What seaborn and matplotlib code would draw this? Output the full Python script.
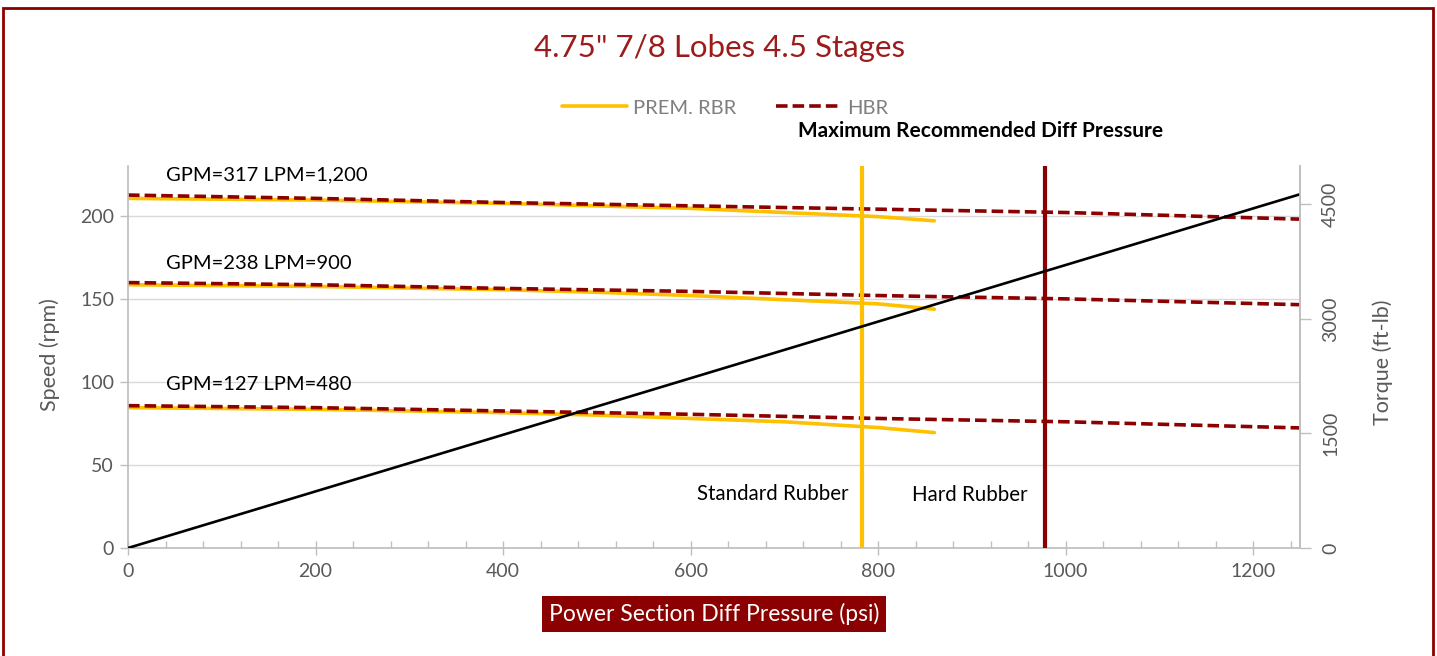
import pandas as pd
import matplotlib.pyplot as plt
import seaborn as sns
from matplotlib.lines import Line2D
from matplotlib.patches import Rectangle
from matplotlib.ticker import MultipleLocator

# pressure points (psi) for each rubber type
prem_psi = [0, 200, 400, 500, 600, 700, 800, 860]
hbr_psi = [0, 200, 400, 600, 800, 1000, 1250]

# speed (rpm) per flow rate
prem_317 = [210.5, 209.5, 207.5, 206.0, 204.5, 202.0, 199.5, 197.0]
prem_238 = [158.5, 157.5, 155.5, 154.0, 152.0, 149.5, 147.0, 143.8]
prem_127 = [84.5, 83.5, 81.5, 80.0, 78.0, 76.0, 72.5, 69.5]
hbr_317 = [212.5, 210.5, 208.0, 206.0, 204.0, 202.0, 198.0]
hbr_238 = [159.8, 158.5, 156.3, 154.5, 152.0, 150.0, 146.5]
hbr_127 = [85.7, 84.5, 82.5, 80.5, 78.0, 76.0, 72.3]

torque_psi = [0, 1250]
torque_ftlb = [0, 4630]

flow_labels = ['GPM=317 LPM=1,200', 'GPM=238 LPM=900', 'GPM=127 LPM=480']
flow_label_y = [224.7, 171.0, 98.2]

std_limit = 783
hard_limit = 978

YELLOW = '#FFC000'
DRED = '#8B0000'
GRAY = '#595959'


def build_frame():
    rows = []
    for flow, vals in zip(flow_labels, [prem_317, prem_238, prem_127]):
        for p, v in zip(prem_psi, vals):
            rows.append({'psi': p, 'rpm': v, 'rubber': 'PREM. RBR', 'flow': flow})
    for flow, vals in zip(flow_labels, [hbr_317, hbr_238, hbr_127]):
        for p, v in zip(hbr_psi, vals):
            rows.append({'psi': p, 'rpm': v, 'rubber': 'HBR', 'flow': flow})
    return pd.DataFrame(rows)


df = build_frame()

sns.set_theme(style='white')
plt.rcParams['font.family'] = ['Lato', 'DejaVu Sans']

W, H = 1437, 656
fig = plt.figure(figsize=(W / 100, H / 100), dpi=100)
ax = fig.add_axes([128 / W, 1 - 548 / H, (1300 - 128) / W, (548 - 166) / H])

sns.lineplot(data=df, x='psi', y='rpm', hue='rubber', style='rubber', units='flow',
             estimator=None, sort=False, hue_order=['PREM. RBR', 'HBR'],
             palette={'PREM. RBR': YELLOW, 'HBR': DRED},
             dashes={'PREM. RBR': '', 'HBR': (3.2, 1.4)},
             lw=2.6, legend=False, ax=ax)

ax.axvline(std_limit, color=YELLOW, lw=3, zorder=5)
ax.axvline(hard_limit, color=DRED, lw=3, zorder=5)

ax.set_xlim(0, 1250)
ax.set_ylim(0, 230)
ax.set_yticks([0, 50, 100, 150, 200])
ax.xaxis.set_major_locator(MultipleLocator(200))
ax.xaxis.set_minor_locator(MultipleLocator(40))
ax.yaxis.grid(True, color='#D9D9D9', lw=1)
ax.set_axisbelow(True)
ax.set_xlabel('')
ax.set_ylabel('')
ax.tick_params(axis='x', which='major', direction='inout', length=10, width=1,
               color='#BFBFBF', labelsize=14, labelcolor=GRAY, pad=6)
ax.tick_params(axis='x', which='minor', direction='in', length=5, width=1, color='#BFBFBF')
ax.tick_params(axis='x', which='both', bottom=True)
ax.tick_params(axis='y', direction='out', length=6, width=1, color='#BFBFBF',
               labelsize=14, labelcolor=GRAY, pad=4, left=True)
for s in ['left', 'bottom', 'right']:
    ax.spines[s].set_color('#BFBFBF')
ax.spines['top'].set_visible(False)

ax2 = ax.twinx()
sns.lineplot(x=torque_psi, y=torque_ftlb, color='black', lw=1.9, ax=ax2)
ax2.set_ylim(0, 5000)
ax2.set_yticks([0, 1500, 3000, 4500])
ax2.set_ylabel('')
ax2.tick_params(axis='y', direction='out', length=8, width=1, color='#BFBFBF',
                labelsize=14, labelcolor=GRAY, labelrotation=90, pad=8, right=True)
for t in ax2.get_yticklabels():
    t.set_va('center')
for s in ['left', 'bottom', 'top']:
    ax2.spines[s].set_visible(False)
ax2.spines['right'].set_color('#BFBFBF')

# annotations
for lab, y in zip(flow_labels, flow_label_y):
    ax.text(40, y, lab, fontsize=14.5, va='center', color='black')
ax.text(768, 32.5, 'Standard Rubber', fontsize=14.8, ha='right', va='center', color='black')
ax.text(898, 32, 'Hard Rubber', fontsize=14.8, ha='center', va='center', color='black')
ax.text(909, 251, 'Maximum Recommended Diff Pressure', fontsize=15, fontweight='bold',
        ha='center', va='center', color='black', clip_on=False)

fig.text(720 / W, 1 - 48 / H, '4.75" 7/8 Lobes 4.5 Stages', ha='center', va='center',
         fontsize=22.5, color='#9C1C1C')
fig.text(50 / W, 1 - 355 / H, 'Speed (rpm)', rotation=90, ha='center', va='center',
         fontsize=15.5, color=GRAY)
fig.text(1383 / W, 1 - 362 / H, 'Torque (ft-lb)', rotation=90, ha='center', va='center',
         fontsize=15.5, color=GRAY)
fig.text(714 / W, 1 - 614 / H, 'Power Section Diff Pressure (psi)', ha='center', va='center',
         fontsize=16.5, color='white',
         bbox=dict(boxstyle='square,pad=0.3', fc=DRED, ec='none'))

handles = [Line2D([], [], color=YELLOW, lw=2.6),
           Line2D([], [], color=DRED, lw=2.6, dashes=(3.2, 1.4))]
fig.legend(handles, ['PREM. RBR', 'HBR'], loc='center', bbox_to_anchor=(725 / W, 1 - 108 / H),
           ncol=2, frameon=False, fontsize=14.5, labelcolor='#7F7F7F', handlelength=3.2,
           handletextpad=0.3, columnspacing=2.0)

fig.add_artist(Rectangle((3 / W, -0.05), 1430 / W, 648 / H + 0.05, transform=fig.transFigure,
                         fill=False, ec=DRED, lw=2))

fig.savefig('out.png', dpi=100)
